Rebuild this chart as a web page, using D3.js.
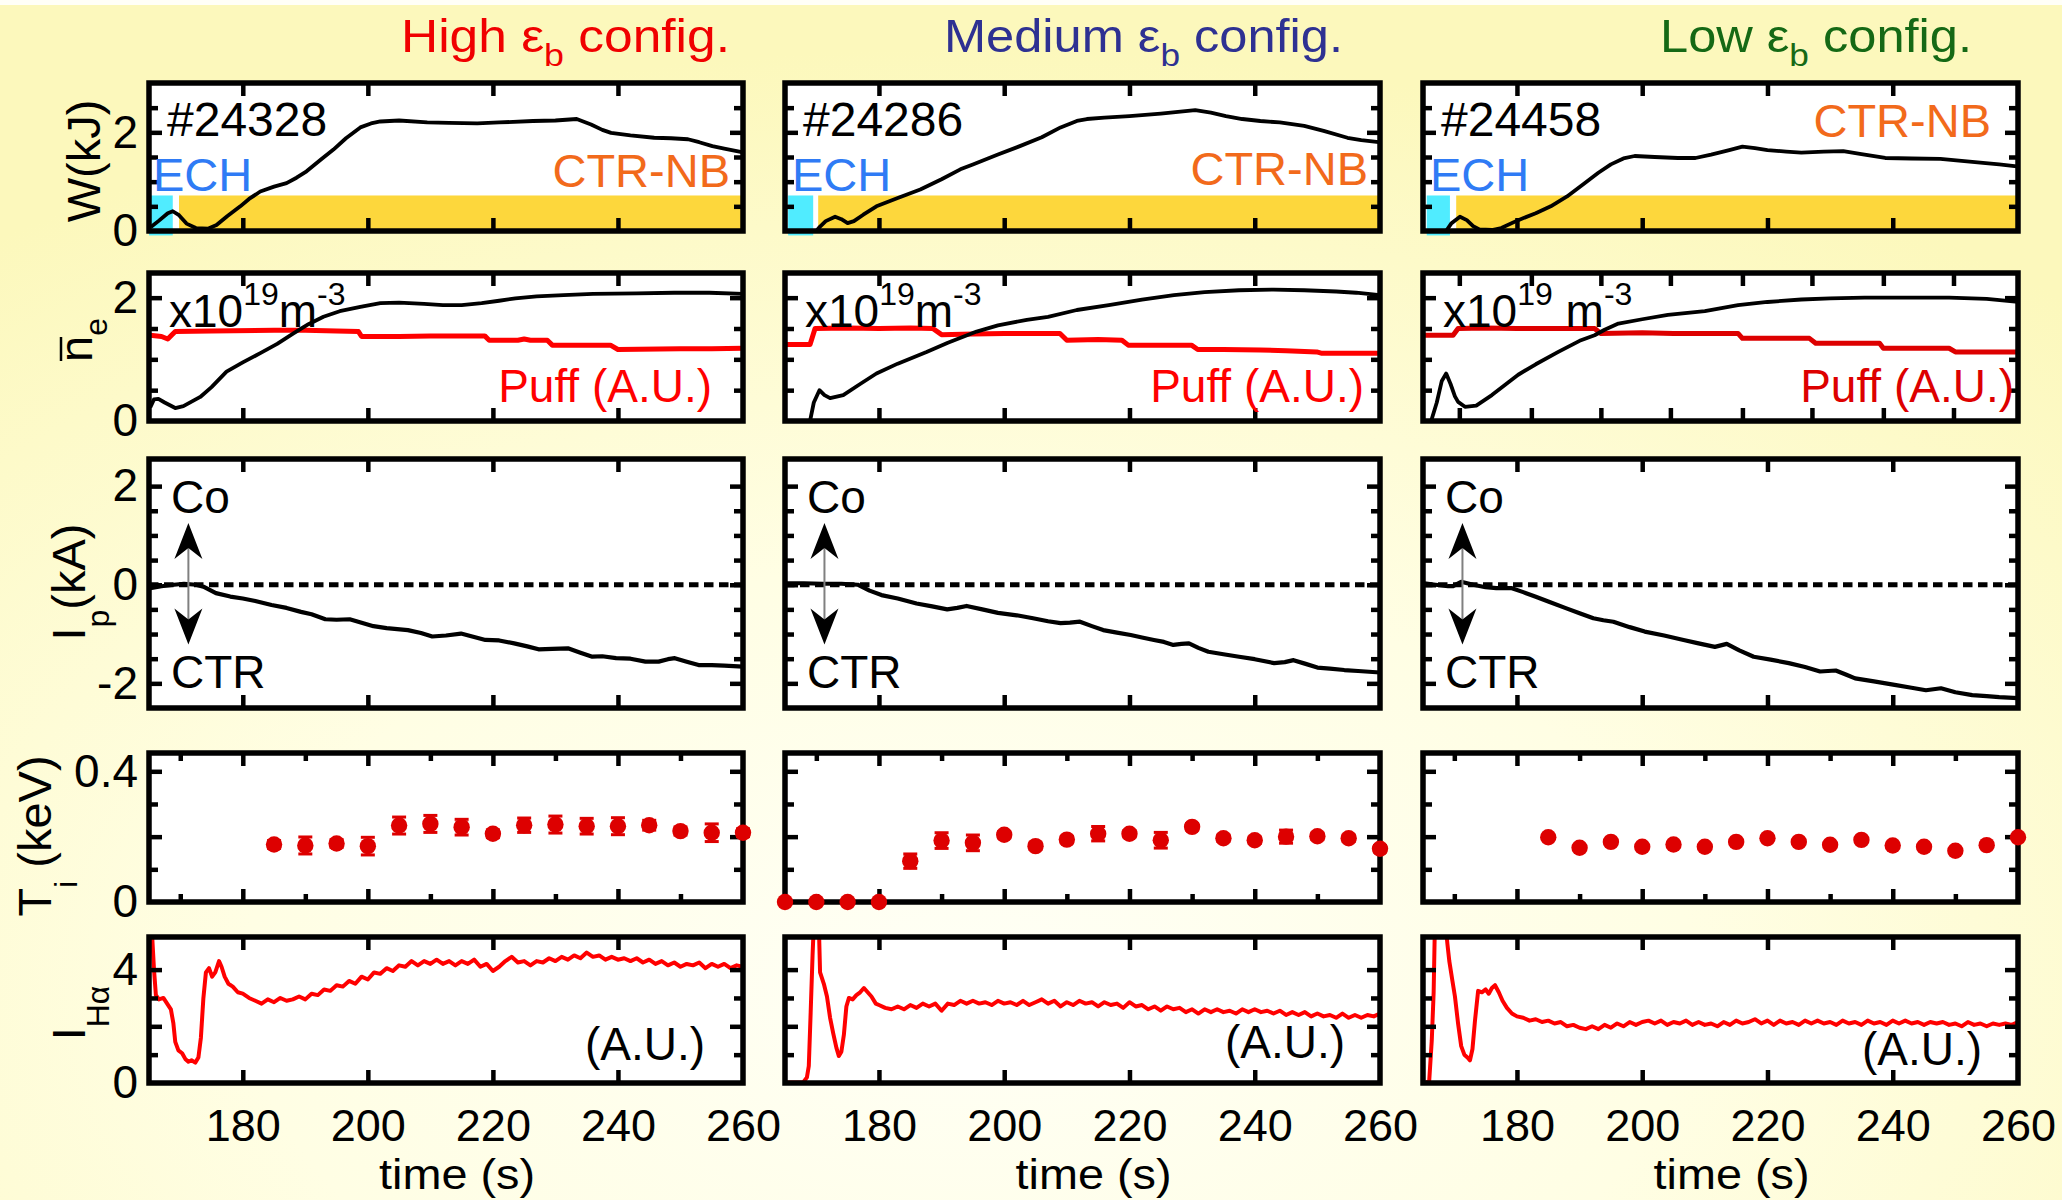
<!DOCTYPE html>
<html>
<head>
<meta charset="utf-8">
<script src="https://cdn.jsdelivr.net/npm/d3@7"></script>
<style>
  html, body { margin: 0; padding: 0; background: #fffde4; }
  svg { display: block; }
</style>
</head>
<body>
<svg id="chart" width="2062" height="1200"></svg>
<script>
// ---------------------------------------------------------------
// Data: time traces for three magnetic configurations
// ---------------------------------------------------------------
const configNames = ["High", "Medium", "Low"];
const shotNumbers = ["#24328", "#24286", "#24458"];

// heating windows (s): ECH ends, CTR-NB starts
const echStart = [165, 165.5, 165.6];
const echEnd = [168.8, 169.5, 169.3];
const nbStart = [169.8, 170.3, 170.3];
const heatLevel = 0.72;

const xTickLabels = [180, 200, 220, 240, 260];
const xMajorTicks = [180, 200, 220, 240];
const xMinorTicks = [170, 190, 210, 230, 250];
const neLowTicks = [170.8, 182.3, 193.4, 204.5, 216, 227.1, 238.5, 249.7];

// stored energy W (kJ)
const wHigh = [[165.3,0.08],[166.5,0.2],[168.0,0.36],[168.8,0.4],[169.8,0.32],[171,0.15],[172.5,0.06],[174.5,0.05],[175.8,0.12],[177.5,0.3],[179.6,0.5],[181,0.65],[182.8,0.8],[185,0.9],[187,0.97],[188.6,1.08],[190.2,1.21],[192.5,1.45],[194.5,1.65],[196.5,1.88],[198.8,2.1],[200.5,2.18],[202,2.22],[205,2.24],[209.5,2.2],[213,2.19],[217.5,2.18],[221,2.2],[226.4,2.23],[230,2.24],[233.4,2.27],[235.7,2.16],[237.5,2.05],[238.9,1.99],[242,1.94],[245.8,1.89],[248.5,1.88],[251.2,1.86],[253,1.8],[255.1,1.72],[257,1.67],[259.8,1.6]];
const wMed = [[170,0.0],[170.6,0.09],[171.5,0.2],[173,0.29],[174,0.24],[175,0.16],[176,0.2],[177.5,0.33],[179.6,0.5],[183,0.67],[186.6,0.84],[190,1.05],[193,1.25],[195,1.35],[199,1.55],[202.5,1.72],[206,1.9],[209,2.1],[211.6,2.23],[213.2,2.27],[216,2.3],[220,2.33],[225,2.38],[230.5,2.45],[233,2.4],[235.4,2.33],[238,2.27],[240.9,2.23],[244,2.2],[247.9,2.13],[251,2.03],[254.8,1.89],[257,1.84],[259.8,1.8]];
const wLow = [[168.8,0.02],[169.5,0.15],[170.9,0.29],[172,0.22],[173,0.1],[174,0.03],[176,0.02],[177.5,0.06],[180.2,0.22],[183,0.36],[185.4,0.5],[188,0.7],[190.8,0.97],[193,1.18],[195,1.35],[197,1.47],[198.8,1.52],[202,1.5],[205.7,1.48],[208.5,1.48],[211,1.55],[213.9,1.64],[216,1.71],[218,1.68],[220,1.64],[223,1.61],[225.4,1.59],[229,1.61],[232.1,1.62],[235,1.56],[238.8,1.48],[243,1.47],[247.6,1.46],[251,1.42],[254.4,1.38],[257,1.35],[259.8,1.31]];

// line-averaged density (1e19 m^-3)
const neHigh = [[165.2,0.22],[165.8,0.35],[166.5,0.36],[167.5,0.3],[169.2,0.21],[170.5,0.24],[173.2,0.39],[175,0.55],[177.4,0.8],[180,0.95],[182.8,1.1],[185.5,1.25],[188.1,1.42],[190.5,1.57],[192.9,1.69],[195.5,1.78],[198.8,1.85],[202,1.91],[205,1.92],[209,1.9],[212,1.88],[215,1.88],[218.2,1.91],[221,1.95],[223.6,1.99],[227,2.02],[231.3,2.04],[236,2.06],[243,2.07],[249,2.08],[254.6,2.08],[260,2.06]];
const neMed = [[169,0.0],[169.6,0.3],[170.5,0.5],[171.3,0.42],[172.2,0.37],[174.3,0.42],[177,0.6],[179.6,0.77],[183,0.93],[187.6,1.12],[191,1.27],[195.6,1.45],[199,1.55],[203.6,1.64],[207,1.69],[211.6,1.8],[216.7,1.88],[222,1.97],[227.1,2.04],[232,2.09],[237.5,2.12],[243,2.13],[247.9,2.12],[253,2.1],[256.2,2.08],[260,2.04]];
const neLow = [[166.3,0.0],[167.2,0.3],[168,0.65],[168.7,0.77],[169.4,0.6],[170.1,0.4],[170.6,0.31],[171.7,0.23],[173.5,0.25],[176,0.42],[180.2,0.75],[183,0.92],[186.6,1.12],[190,1.3],[192.4,1.39],[194,1.48],[196.2,1.58],[200,1.65],[204.1,1.72],[210,1.78],[215.3,1.88],[220,1.93],[225.4,1.97],[230,1.99],[235.5,2.0],[242,2.0],[249,2.0],[255,1.98],[260,1.93]];

// gas puff (A.U.)
const puffHigh = [[165.2,1.39],[167,1.37],[168,1.33],[169.2,1.45],[175,1.46],[185,1.47],[190,1.47],[195,1.46],[198.5,1.45],[199,1.37],[205,1.37],[210,1.38],[218.7,1.38],[219.4,1.31],[224,1.31],[225,1.33],[226,1.31],[228.7,1.31],[229.5,1.23],[238.8,1.23],[240,1.16],[250,1.17],[255,1.17],[260,1.18]];
const puffMed = [[165,1.24],[169,1.24],[169.8,1.5],[175,1.51],[180,1.5],[185,1.51],[188.6,1.5],[190,1.4],[195,1.41],[200,1.42],[205,1.42],[208.9,1.42],[210,1.31],[215,1.32],[218.8,1.31],[219.8,1.23],[225,1.23],[229.9,1.23],[230.9,1.16],[235,1.16],[240.9,1.15],[245,1.14],[249.9,1.12],[250.6,1.1],[255,1.1],[260,1.1]];
const puffLow = [[165,1.39],[169.8,1.39],[170.6,1.5],[175,1.51],[180,1.5],[185,1.5],[192.4,1.5],[193.4,1.42],[200,1.43],[205,1.42],[210,1.42],[215.3,1.42],[216,1.34],[220,1.34],[226.7,1.34],[227.7,1.26],[232,1.26],[237.9,1.26],[238.5,1.18],[245,1.18],[249,1.18],[250,1.12],[255,1.12],[260,1.12]];

// plasma current Ip (kA)
const ipHigh = [[165.2,-0.07],[167,-0.03],[169,0.0],[170.6,0.02],[172.5,0.0],[173.7,-0.04],[175.7,-0.17],[178,-0.24],[180,-0.28],[182,-0.33],[184.6,-0.41],[187,-0.47],[189.3,-0.55],[191,-0.6],[193.2,-0.7],[195,-0.71],[197.1,-0.7],[199,-0.77],[200.9,-0.84],[203,-0.88],[206.4,-0.92],[208.5,-0.98],[210.3,-1.05],[212.5,-1.03],[214.9,-0.99],[217,-1.06],[218.8,-1.12],[221,-1.13],[223.4,-1.19],[225.5,-1.25],[227.3,-1.31],[229.5,-1.3],[232,-1.29],[234,-1.38],[235.9,-1.46],[237.5,-1.45],[239.7,-1.49],[242,-1.5],[244.4,-1.56],[246.5,-1.56],[248,-1.51],[249.1,-1.49],[251,-1.56],[252.9,-1.63],[255,-1.63],[257,-1.64],[260,-1.66]];
const ipMed = [[165.2,0.03],[168,0.03],[171,0.02],[174,0.02],[176.6,0.0],[178.5,-0.12],[180.4,-0.21],[183,-0.28],[186,-0.38],[188.5,-0.44],[190.9,-0.5],[192.5,-0.47],[194,-0.43],[196.5,-0.5],[199,-0.57],[202,-0.62],[204.6,-0.68],[207,-0.74],[209,-0.78],[210.5,-0.77],[212.1,-0.75],[214,-0.84],[215.8,-0.92],[218,-0.97],[220.2,-1.02],[222,-1.07],[223.9,-1.12],[225.5,-1.16],[227,-1.22],[228.3,-1.2],[229.5,-1.19],[231,-1.28],[232.6,-1.36],[235,-1.41],[237.5,-1.46],[240,-1.51],[243.1,-1.59],[244.8,-1.57],[246.2,-1.53],[248,-1.6],[250,-1.68],[252,-1.7],[254.3,-1.73],[256.5,-1.75],[260,-1.78]];
const ipLow = [[165.2,0.03],[167,0.0],[169,-0.03],[169.8,-0.03],[171.1,0.06],[173,0.0],[175,-0.05],[176.7,-0.07],[179.2,-0.07],[181,-0.15],[182.9,-0.24],[185,-0.34],[187.9,-0.48],[190,-0.58],[192.2,-0.68],[193.8,-0.72],[195.4,-0.75],[198,-0.86],[200.4,-0.95],[203.5,-1.03],[206.6,-1.12],[209,-1.19],[211.6,-1.26],[213.5,-1.2],[215.5,-1.33],[217.8,-1.46],[220.5,-1.52],[223.4,-1.59],[226,-1.67],[228.4,-1.76],[230.9,-1.74],[232.5,-1.82],[234,-1.9],[237,-1.96],[240.3,-2.03],[243,-2.09],[245.3,-2.14],[247.7,-2.1],[250,-2.18],[252.7,-2.24],[255,-2.26],[257,-2.28],[260,-2.3]];

// ion temperature Ti (keV) with error bars
const tiTimeHigh = [185,190,195,200,205,210,215,220,225,230,235,240,245,250,255,260];
const tiHigh = [0.176,0.173,0.179,0.171,0.234,0.239,0.229,0.209,0.235,0.237,0.232,0.232,0.235,0.217,0.212,0.212];
const tiErrHigh = [0.012,0.026,0.012,0.027,0.026,0.026,0.024,0.012,0.022,0.026,0.024,0.026,0.015,0.012,0.027,0.012];
const tiTimeMed = [165,170,175,180,185,190,195,200,205,210,215,220,225,230,235,240,245,250,255,260];
const tiMed = [0,0,0,0,0.125,0.188,0.181,0.206,0.171,0.191,0.209,0.209,0.189,0.23,0.195,0.189,0.2,0.201,0.195,0.163];
const tiErrMed = [0,0,0,0,0.022,0.024,0.024,0.01,0.01,0.01,0.022,0.01,0.024,0.01,0.01,0.01,0.02,0.01,0.01,0.01];
const tiTimeLow = [185,190,195,200,205,210,215,220,225,230,235,240,245,250,255,260];
const tiLow = [0.198,0.166,0.184,0.169,0.176,0.169,0.184,0.195,0.184,0.175,0.19,0.173,0.169,0.157,0.174,0.198];
const tiErrLow = [0,0,0,0,0,0,0,0,0,0,0,0,0,0,0,0];

// H-alpha intensity (A.U.)
const haHigh = [[165.4,5.6],[165.8,4.0],[166.1,3.1],[166.6,2.95],[167.3,3.0],[167.9,2.8],[168.5,2.6],[168.9,2.1],[169.2,1.45],[169.7,1.15],[170.3,1.05],[170.8,0.85],[171.3,0.75],[171.8,0.8],[172.4,0.72],[172.9,0.9],[173.3,1.6],[173.7,3.0],[174.1,3.9],[174.6,4.05],[175.1,3.75],[175.6,3.9],[176.2,4.3],[176.6,4.1],[177.1,3.75],[177.7,3.5],[178.4,3.4],[179.2,3.2],[180,3.15],[181,3.0],[182,2.9],[183,2.8],[184,2.95],[185,2.85],[186,3.0],[187,2.9],[188,2.95],[189,3.05],[190,2.95],[191,3.15],[192,3.1],[193,3.3],[194,3.25],[195,3.45],[196,3.4],[197,3.6],[198,3.5],[199,3.75],[200,3.65],[201,3.9],[202,3.85],[203,4.05],[204,3.95],[205,4.15],[206,4.1],[207,4.3],[208,4.15],[209,4.3],[210,4.2],[211,4.35],[212,4.2],[213,4.3],[214,4.15],[215,4.3],[216,4.2],[217,4.35],[218,4.1],[219,4.2],[220,3.95],[221,4.1],[222,4.3],[223,4.45],[224,4.25],[225,4.3],[226,4.15],[227,4.3],[228,4.25],[229,4.4],[230,4.3],[231,4.45],[232,4.35],[233,4.5],[234,4.4],[235,4.6],[236,4.45],[237,4.5],[238,4.35],[239,4.45],[240,4.35],[241,4.4],[242,4.3],[243,4.4],[244,4.25],[245,4.35],[246,4.2],[247,4.3],[248,4.15],[249,4.25],[250,4.1],[251,4.2],[252,4.15],[253,4.25],[254,4.05],[255,4.2],[256,4.1],[257,4.2],[258,4.05],[259,4.15],[260,4.1]];
const haMed = [[165.2,0.02],[167.9,0.02],[168.5,0.2],[168.8,0.6],[169.1,2.5],[169.4,4.5],[169.6,5.6],[170.4,5.6],[170.6,3.9],[171.2,3.5],[171.7,3.05],[172.2,2.3],[172.7,1.75],[173.2,1.25],[173.6,0.95],[174.0,1.1],[174.4,1.7],[174.8,2.7],[175.2,3.0],[175.8,2.95],[176.4,3.1],[177.0,3.2],[177.6,3.35],[178.2,3.2],[178.8,3.05],[179.5,2.8],[180,2.75],[181,2.65],[182,2.6],[183,2.7],[184,2.6],[185,2.75],[186,2.65],[187,2.8],[188,2.7],[189,2.8],[190,2.55],[191,2.8],[192,2.75],[193,2.9],[194,2.8],[195,2.9],[196,2.8],[197,2.85],[198,2.75],[199,2.9],[200,2.8],[201,2.85],[202,2.75],[203,2.9],[204,2.75],[205,2.85],[206,2.95],[207,2.8],[208,2.9],[209,2.7],[210,2.85],[211,2.75],[212,2.9],[213,2.8],[214,2.85],[215,2.7],[216,2.85],[217,2.75],[218,2.8],[219,2.65],[220,2.85],[221,2.7],[222,2.75],[223,2.6],[224,2.7],[225,2.55],[226,2.7],[227,2.6],[228,2.65],[229,2.5],[230,2.6],[231,2.45],[232,2.6],[233,2.5],[234,2.6],[235,2.5],[236,2.55],[237,2.45],[238,2.6],[239,2.5],[240,2.6],[241,2.5],[242,2.55],[243,2.45],[244,2.55],[245,2.4],[246,2.5],[247,2.4],[248,2.5],[249,2.35],[250,2.45],[251,2.35],[252,2.4],[253,2.3],[254,2.45],[255,2.3],[256,2.4],[257,2.3],[258,2.4],[259,2.35],[260,2.45]];
const haLow = [[165.5,0.0],[166.0,0.1],[166.4,1.5],[166.7,3.2],[166.9,5.6],[168.6,5.6],[168.9,4.9],[169.2,4.3],[169.7,3.6],[170.1,3.05],[170.6,2.1],[171.1,1.3],[171.6,1.0],[172.1,0.9],[172.5,0.8],[172.9,1.2],[173.3,2.2],[173.8,3.25],[174.4,3.2],[175,3.3],[175.5,3.15],[176,3.35],[176.5,3.45],[177.1,3.2],[177.7,2.9],[178.4,2.65],[179.2,2.45],[180,2.35],[181,2.3],[182,2.2],[183,2.25],[184,2.15],[185,2.2],[186,2.1],[187,2.15],[188,2.0],[189,2.05],[190,1.95],[191,1.9],[192,2.0],[193,1.9],[194,2.05],[195,1.95],[196,2.1],[197,2.0],[198,2.15],[199,2.05],[200,2.15],[201,2.2],[202,2.1],[203,2.2],[204,2.05],[205,2.15],[206,2.1],[207,2.2],[208,2.05],[209,2.15],[210,2.05],[211,2.1],[212,2.0],[213,2.15],[214,2.05],[215,2.2],[216,2.1],[217,2.15],[218,2.25],[219,2.1],[220,2.2],[221,2.05],[222,2.2],[223,2.1],[224,2.15],[225,2.05],[226,2.2],[227,2.1],[228,2.2],[229,2.1],[230,2.15],[231,2.05],[232,2.2],[233,2.1],[234,2.15],[235,2.05],[236,2.2],[237,2.1],[238,2.15],[239,2.05],[240,2.2],[241,2.1],[242,2.2],[243,2.1],[244,2.15],[245,2.05],[246,2.15],[247,2.1],[248,2.15],[249,2.05],[250,2.1],[251,2.0],[252,2.15],[253,2.05],[254,2.1],[255,2.0],[256,2.1],[257,2.05],[258,2.1],[259,2.05],[260,2.15]];

// ---------------------------------------------------------------
// Layout and styles
// ---------------------------------------------------------------
const FONT = '"Liberation Sans", Arial, Helvetica, sans-serif';
const tDomain = [165, 260];
const colX = [[149, 743], [785, 1380], [1423, 2018]];
const rowY = { W: [83, 231], ne: [273, 421], ip: [459, 708], ti: [753, 902], ha: [937, 1083] };
const yDomains = { W: [0, 3.0], ne: [0, 2.4], ip: [-2.5, 2.55], ti: [0, 0.456], ha: [0, 5.15] };
const titleColors = ["#f00000", "#2e3192", "#156915"];
const titleX = [401, 944, 1660];
const titleLen = [329, 399, 312];
const puffColors = ["#ff0000", "#ff0000", "#dd0000"];
const ctrNbPos = [[730, 187], [1368, 185], [1991, 137]];
const puffLabelRight = [712, 1364, 2014];
const auLabelPos = [[705, 1060], [1345, 1058], [1982, 1065]];

const columns = [
  { w: wHigh, ne: neHigh, puff: puffHigh, ip: ipHigh, tiT: tiTimeHigh, ti: tiHigh, tiE: tiErrHigh, ha: haHigh, spaceM: false },
  { w: wMed, ne: neMed, puff: puffMed, ip: ipMed, tiT: tiTimeMed, ti: tiMed, tiE: tiErrMed, ha: haMed, spaceM: false },
  { w: wLow, ne: neLow, puff: puffLow, ip: ipLow, tiT: tiTimeLow, ti: tiLow, tiE: tiErrLow, ha: haLow, spaceM: true }
];

const svg = d3.select("#chart");
const defs = svg.append("defs");

// soft yellow backdrop
const bg = defs.append("radialGradient").attr("id", "bgGrad")
  .attr("cx", "0.47").attr("cy", "0.82").attr("r", "0.78");
bg.append("stop").attr("offset", "0").attr("stop-color", "#fffff6");
bg.append("stop").attr("offset", "0.45").attr("stop-color", "#fffee4");
bg.append("stop").attr("offset", "1").attr("stop-color", "#fcf8bc");
svg.append("rect").attr("width", 2062).attr("height", 1200).attr("fill", "url(#bgGrad)");
svg.append("rect").attr("width", 2062).attr("height", 5).attr("fill", "#fffff8");

function makePanel(c, key) {
  const [x0, x1] = colX[c], [y0, y1] = rowY[key];
  const x = d3.scaleLinear().domain(tDomain).range([x0, x1]);
  const y = d3.scaleLinear().domain(yDomains[key]).range([y1, y0]);
  const id = `clip-${key}-${c}`;
  defs.append("clipPath").attr("id", id).append("rect")
    .attr("x", x0).attr("y", y0).attr("width", x1 - x0).attr("height", y1 - y0);
  const g = svg.append("g").attr("class", `panel panel-${key}`);
  g.append("rect").attr("x", x0).attr("y", y0).attr("width", x1 - x0).attr("height", y1 - y0).attr("fill", "#fff");
  const under = g.append("g");
  const data = g.append("g").attr("clip-path", `url(#${id})`);
  const frame = g.append("g");
  const top = g.append("g");
  return { x, y, x0, x1, y0, y1, under, data, frame, top };
}

function tickAxis(p, gen, tr) {
  const a = p.frame.append("g").attr("transform", tr).call(gen);
  a.select(".domain").remove();
  a.selectAll("text").remove();
  a.selectAll("line").attr("stroke", "#000").attr("stroke-width", 4.5);
}

function drawFrame(p, xMajor, xMinor, yMajor, yMinor) {
  const { x, y, x0, x1, y0, y1 } = p;
  tickAxis(p, d3.axisBottom(x).tickValues(xMajor).tickSize(-13).tickFormat(""), `translate(0,${y1})`);
  tickAxis(p, d3.axisTop(x).tickValues(xMajor).tickSize(-13).tickFormat(""), `translate(0,${y0})`);
  if (xMinor) {
    tickAxis(p, d3.axisBottom(x).tickValues(xMinor).tickSize(-8).tickFormat(""), `translate(0,${y1})`);
    tickAxis(p, d3.axisTop(x).tickValues(xMinor).tickSize(-8).tickFormat(""), `translate(0,${y0})`);
  }
  tickAxis(p, d3.axisLeft(y).tickValues(yMajor).tickSize(-13).tickFormat(""), `translate(${x0},0)`);
  tickAxis(p, d3.axisRight(y).tickValues(yMajor).tickSize(-13).tickFormat(""), `translate(${x1},0)`);
  tickAxis(p, d3.axisLeft(y).tickValues(yMinor).tickSize(-9).tickFormat(""), `translate(${x0},0)`);
  tickAxis(p, d3.axisRight(y).tickValues(yMinor).tickSize(-9).tickFormat(""), `translate(${x1},0)`);
  p.frame.append("rect").attr("x", x0).attr("y", y0).attr("width", x1 - x0).attr("height", y1 - y0)
    .attr("fill", "none").attr("stroke", "#000").attr("stroke-width", 5.5);
}

function yTickLabels(p, values, fmt) {
  const a = p.frame.append("g").attr("transform", `translate(${p.x0},0)`)
    .call(d3.axisLeft(p.y).tickValues(values).tickSize(0).tickPadding(11).tickFormat(fmt || (d => String(d))));
  a.select(".domain").remove();
  a.attr("font-family", FONT).attr("font-size", 46);
  a.selectAll("text").attr("fill", "#000");
}

function addText(sel, x, y, str, size, color, anchor) {
  return sel.append("text").attr("x", x).attr("y", y).attr("font-family", FONT)
    .attr("font-size", size).attr("fill", color || "#000").attr("text-anchor", anchor || "start").text(str);
}

const lineGen = (p) => d3.line().x(d => p.x(d[0])).y(d => p.y(d[1]));

columns.forEach((col, c) => {
  // ---- column title
  const tt = svg.append("text").attr("x", titleX[c]).attr("y", 52)
    .attr("font-family", FONT).attr("font-size", 46).attr("fill", titleColors[c])
    .attr("textLength", titleLen[c]).attr("lengthAdjust", "spacingAndGlyphs");
  tt.append("tspan").text(configNames[c] + " ");
  tt.append("tspan").text("ε");
  tt.append("tspan").attr("font-size", 32).attr("dy", 14).text("b");
  tt.append("tspan").attr("dy", -14).text(" config.");

  // ---- stored energy
  const pW = makePanel(c, "W");
  pW.under.append("rect")
    .attr("x", pW.x(echStart[c])).attr("width", pW.x(echEnd[c]) - pW.x(echStart[c]))
    .attr("y", pW.y(heatLevel)).attr("height", pW.y(-0.09) - pW.y(heatLevel))
    .attr("fill", "#50ecff");
  pW.under.append("rect")
    .attr("x", pW.x(nbStart[c])).attr("width", pW.x(260) - pW.x(nbStart[c]))
    .attr("y", pW.y(heatLevel)).attr("height", pW.y(0) - pW.y(heatLevel))
    .attr("fill", "#fdd73c");
  pW.data.append("path").datum(col.w).attr("d", lineGen(pW))
    .attr("fill", "none").attr("stroke", "#000").attr("stroke-width", 3.8).attr("stroke-linejoin", "round");
  drawFrame(pW, xMajorTicks, null, [2], [0.5, 1, 1.5, 2.5]);
  addText(pW.top, colX[c][0] + 18, 136, shotNumbers[c], 48, "#000");
  addText(pW.top, colX[c][0] + (c === 0 ? 4 : 7), 191, "ECH", 47, "#2f7bf5");
  addText(pW.top, ctrNbPos[c][0], ctrNbPos[c][1], "CTR-NB", 47, "#f26a1b", "end");

  // ---- density and gas puff
  const pN = makePanel(c, "ne");
  pN.data.append("path").datum(col.puff).attr("d", lineGen(pN))
    .attr("fill", "none").attr("stroke", puffColors[c]).attr("stroke-width", 5).attr("stroke-linejoin", "round");
  pN.data.append("path").datum(col.ne).attr("d", lineGen(pN))
    .attr("fill", "none").attr("stroke", "#000").attr("stroke-width", 3.8).attr("stroke-linejoin", "round");
  drawFrame(pN, c === 2 ? neLowTicks : xMajorTicks, null, [2], [0.5, 1, 1.5]);
  const unit = pN.top.append("text").attr("x", colX[c][0] + 20).attr("y", 327)
    .attr("font-family", FONT).attr("font-size", 46).attr("fill", "#000");
  unit.append("tspan").text("x10");
  unit.append("tspan").attr("font-size", 32).attr("dy", -22).text("19");
  unit.append("tspan").attr("dy", 22).text(col.spaceM ? " m" : "m");
  unit.append("tspan").attr("font-size", 32).attr("dy", -22).text("-3");
  addText(pN.top, puffLabelRight[c], 402, "Puff (A.U.)", 46, puffColors[c], "end");

  // ---- plasma current
  const pI = makePanel(c, "ip");
  pI.data.append("line").attr("x1", pI.x0).attr("x2", pI.x1).attr("y1", pI.y(0)).attr("y2", pI.y(0))
    .attr("stroke", "#000").attr("stroke-width", 5).attr("stroke-dasharray", "9.5,5.5");
  pI.data.append("path").datum(col.ip).attr("d", lineGen(pI))
    .attr("fill", "none").attr("stroke", "#000").attr("stroke-width", 4.2).attr("stroke-linejoin", "round");
  drawFrame(pI, xMajorTicks, null, [-2, 0, 2], [-1.5, -1, -0.5, 0.5, 1, 1.5]);
  // Co / CTR direction arrow
  const ax = pI.x(171.3), yTop = pI.y(1.25), yBot = pI.y(-1.21);
  pI.top.append("line").attr("x1", ax).attr("x2", ax).attr("y1", yTop + 20).attr("y2", yBot - 20)
    .attr("stroke", "#808080").attr("stroke-width", 2);
  const head = (tip, dir) => `M${ax},${tip} L${ax + 14},${tip + dir * 36} L${ax},${tip + dir * 25} L${ax - 14},${tip + dir * 36} Z`;
  pI.top.append("path").attr("d", head(yTop, 1)).attr("fill", "#000");
  pI.top.append("path").attr("d", head(yBot, -1)).attr("fill", "#000");
  addText(pI.top, colX[c][0] + 22, pI.y(1.45), "Co", 46, "#000");
  addText(pI.top, colX[c][0] + 22, pI.y(-2.1), "CTR", 46, "#000");

  // ---- ion temperature
  const pT = makePanel(c, "ti");
  drawFrame(pT, xMajorTicks, xMinorTicks, [0.2, 0.4], [0.1, 0.3]);
  const pts = col.tiT.map((t, i) => ({ t, v: col.ti[i], e: col.tiE[i] }));
  const eb = pT.top.append("g").attr("stroke", "#dd0000");
  pts.filter(d => d.e > 0).forEach(d => {
    const xx = pT.x(d.t), ya = pT.y(d.v + d.e), yb = pT.y(d.v - d.e);
    eb.append("line").attr("x1", xx).attr("x2", xx).attr("y1", ya).attr("y2", yb).attr("stroke-width", 2);
    eb.append("line").attr("x1", xx - 7).attr("x2", xx + 7).attr("y1", ya).attr("y2", ya).attr("stroke-width", 3);
    eb.append("line").attr("x1", xx - 7).attr("x2", xx + 7).attr("y1", yb).attr("y2", yb).attr("stroke-width", 3);
  });
  pT.top.selectAll("circle.ti").data(pts).join("circle").attr("class", "ti")
    .attr("cx", d => pT.x(d.t)).attr("cy", d => pT.y(d.v)).attr("r", 8.2).attr("fill", "#dd0000");

  // ---- H-alpha
  const pH = makePanel(c, "ha");
  pH.data.append("path").datum(col.ha).attr("d", lineGen(pH))
    .attr("fill", "none").attr("stroke", "#ff0000").attr("stroke-width", 4).attr("stroke-linejoin", "round");
  drawFrame(pH, xMajorTicks, null, [2, 4], [1, 3]);
  addText(pH.top, auLabelPos[c][0], auLabelPos[c][1], "(A.U.)", 46, "#000", "end");

  // time axis labels
  const xl = pH.frame.append("g").attr("transform", `translate(0,${pH.y1})`)
    .call(d3.axisBottom(pH.x).tickValues(xTickLabels).tickSize(0).tickPadding(26).tickFormat(d => String(d)));
  xl.select(".domain").remove();
  xl.attr("font-family", FONT).attr("font-size", 45);
  xl.selectAll("text").attr("fill", "#000");
  addText(svg, (colX[c][0] + colX[c][1]) / 2 + 11, 1189, "time (s)", 43, "#000", "middle")
    .attr("textLength", 156).attr("lengthAdjust", "spacingAndGlyphs");

  if (c === 0) {
    yTickLabels(pW, [0, 2]);
    yTickLabels(pN, [0, 2]);
    yTickLabels(pI, [-2, 0, 2]);
    yTickLabels(pT, [0, 0.4]);
    yTickLabels(pH, [0, 4]);
  }
});

// ---- rotated quantity labels for the left column
function rotLabel(cx, cy) {
  return svg.append("g").attr("transform", `translate(${cx},${cy}) rotate(-90)`);
}
{
  const g = rotLabel(100, 161);
  g.append("text").attr("font-family", FONT).attr("font-size", 47).attr("text-anchor", "middle").text("W(kJ)");
}
{
  const g = rotLabel(92, 340);
  const t = g.append("text").attr("x", -22).attr("font-family", FONT).attr("font-size", 47);
  t.append("tspan").text("n");
  t.append("tspan").attr("font-size", 32).attr("dy", 15).text("e");
  g.append("line").attr("x1", -21).attr("x2", 3).attr("y1", -31).attr("y2", -31)
    .attr("stroke", "#000").attr("stroke-width", 2.5);
}
{
  const g = rotLabel(85, 582);
  const t = g.append("text").attr("font-family", FONT).attr("font-size", 47).attr("text-anchor", "middle");
  t.append("tspan").text("I");
  t.append("tspan").attr("font-size", 32).attr("dy", 24).text("p");
  t.append("tspan").attr("dy", -24).text("(kA)");
}
{
  const g = rotLabel(51, 836);
  const t = g.append("text").attr("font-family", FONT).attr("font-size", 47).attr("text-anchor", "middle");
  t.append("tspan").text("T");
  t.append("tspan").attr("font-size", 32).attr("dy", 26).text("i");
  t.append("tspan").attr("dy", -26).text(" (keV)");
}
{
  const g = rotLabel(85, 1013);
  const t = g.append("text").attr("font-family", FONT).attr("font-size", 47).attr("text-anchor", "middle");
  t.append("tspan").text("I");
  t.append("tspan").attr("font-size", 32).attr("dy", 24).text("Hα");
}
</script>
</body>
</html>
